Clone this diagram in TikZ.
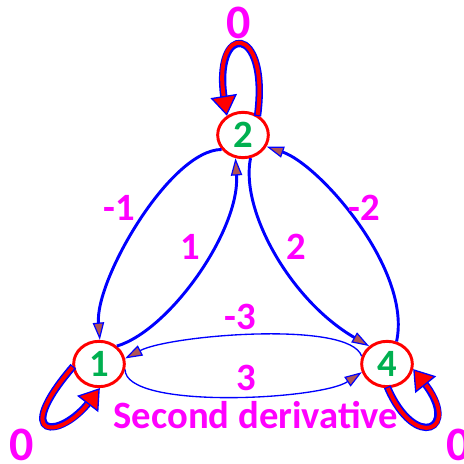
\documentclass[tikz,border=0pt]{standalone}
\usepackage{fontspec}
\setmainfont{Carlito}
\usetikzlibrary{arrows.meta,shapes.geometric}
\definecolor{mag}{RGB}{255,0,255}
\definecolor{grn}{RGB}{0,176,80}
\definecolor{tipfill}{RGB}{176,84,84}
\begin{document}
\begin{tikzpicture}[x=0.75pt,y=-0.75pt,
  state/.style={ellipse,draw=red,line width=2.2pt,fill=white,minimum width=38pt,minimum height=34pt,inner sep=0pt,text=grn,font=\fontsize{29}{31}\selectfont\bfseries},
  lbl/.style={text=mag,font=\fontsize{29}{31}\selectfont\bfseries,inner sep=0pt},
  zero/.style={text=mag,font=\fontsize{36}{40}\selectfont\bfseries,inner sep=0pt},
  edgetip/.style={-{Triangle[length=13pt,width=8.5pt,color=blue,fill=tipfill,line width=0.9pt]}},
  thickedge/.style={draw=blue,line width=2.2pt,edgetip},
  thinedge/.style={draw=blue,line width=1pt,edgetip},
  loopback/.style={draw=blue,line width=5.5pt,shorten >=12pt,shorten <=-1pt},
  loopfront/.style={draw=red,line width=3pt,-{Triangle[length=15pt,width=20pt,color=blue,fill=red,line width=1pt]}}
]
\useasboundingbox (0,0) rectangle (464,464);
\node[state] (n2) at (243,135) {2};
\node[state] (n1) at (99,364) {1};
\node[state] (n4) at (387,364) {4};

% edges
\draw[thickedge] (n2.214) .. controls (170,150) and (95,280) .. (n1.88);
\draw[thickedge] (n1.45) .. controls (170,330) and (240,230) .. (n2.252);
\draw[thickedge] (n2.288) .. controls (240,210) and (290,300) .. (n4.135);
\draw[thickedge] (n4.67) .. controls (412,270) and (320,165) .. (n2.334);
\draw[thinedge] (n4.163) .. controls (350,320) and (170,335) .. (n1.12);
\draw[thinedge] (n1.348) .. controls (125,410) and (320,400) .. (n4.198);

% self loops
\draw[loopback] (n2.54) .. controls (270,22) and (212,22) .. (n2.130);
\draw[loopfront] (n2.54) .. controls (270,22) and (212,22) .. (n2.130);
\draw[loopback] (n1.187) .. controls (10,440) and (60,440) .. (n1.272);
\draw[loopfront] (n1.187) .. controls (10,440) and (60,440) .. (n1.272);
\draw[loopback] (n4.272) .. controls (415,452) and (462,430) .. (n4.349);
\draw[loopfront] (n4.272) .. controls (415,452) and (462,430) .. (n4.349);

% labels
\node[zero] (z2) at (239,23) {0};
\node[zero] (z1) at (22,445) {0};
\node[zero] (z4) at (459,445) {0};
\node[lbl] (lm1) at (119,208) {-1};
\node[lbl] (lp1) at (190,247) {1};
\node[lbl] (lp2) at (296,247) {2};
\node[lbl] (lm2) at (364,208) {-2};
\node[lbl] (lm3) at (240,317) {-3};
\node[lbl] (lp3) at (246,378) {3};
\node[lbl,anchor=base] (title) at (256,428) {Second derivative};
\end{tikzpicture}
\end{document}
